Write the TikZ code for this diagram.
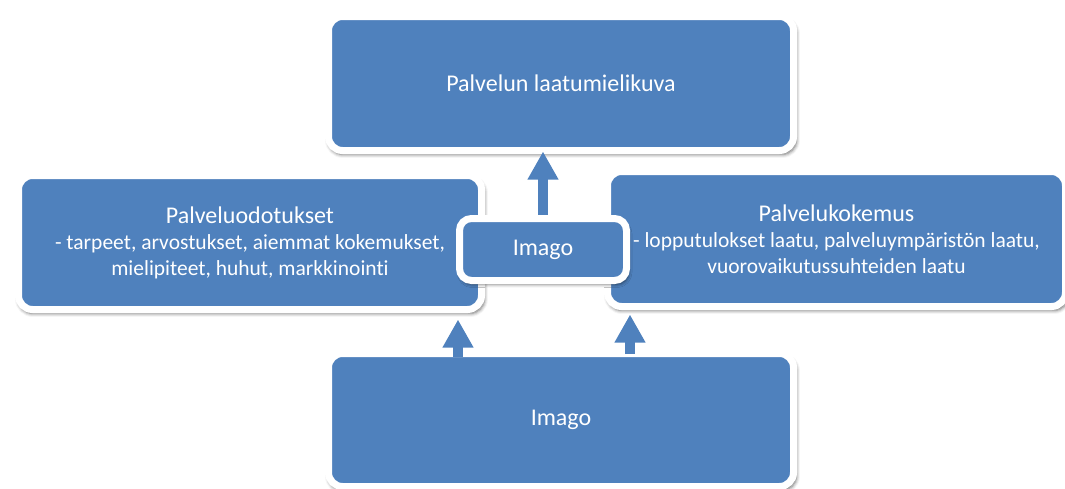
\documentclass[tikz,border=0pt]{standalone}
\usepackage{fontspec}
\setmainfont{Carlito}[Ligatures=NoCommon]
\usetikzlibrary{arrows.meta,shadows.blur}
\definecolor{boxblue}{HTML}{4F81BD}
\tikzset{
  panel/.style={draw=white, line width=7pt, fill=boxblue, rounded corners=14pt,
    text=white, align=center, inner sep=0pt,
    blur shadow={shadow xshift=1.5pt, shadow yshift=-3.5pt,
                 shadow blur radius=3.5pt, shadow blur extra rounding=3pt,
                 shadow scale=1.006, shadow opacity=60}},
  headfont/.style={font=\fontsize{24}{26}\selectfont},
  arr/.style={draw=boxblue, line width=9.5pt,
    -{Triangle[width=29pt,length=28pt]}},
}
\newcommand{\sub}[1]{{\fontsize{21.5}{26}\selectfont #1}}
\begin{document}
\begin{tikzpicture}[x=1pt,y=-1pt]
\useasboundingbox (0,0) rectangle (1065,488);

% outer panels
\node[panel, headfont, minimum width=465pt, minimum height=134pt]
  (top) at (561,83.5) {Palvelun laatumielikuva};
\node[panel, headfont, minimum width=463pt, minimum height=134pt]
  (left) at (250,242.5)
  {Palveluodotukset\\\sub{- tarpeet, arvostukset, aiemmat kokemukset,}\\\sub{mielipiteet, huhut, markkinointi}};
\node[panel, headfont, minimum width=458pt, minimum height=135pt]
  (right) at (836.5,239)
  {Palvelukokemus\\\sub{- lopputulokset laatu, palveluympäristön laatu,}\\\sub{vuorovaikutussuhteiden laatu}};
\node[panel, headfont, minimum width=465pt, minimum height=133pt]
  (bottom) at (561,420) {Imago};

% central image box and the arrow to the top panel
\draw[arr, shorten >=-2.5pt] (543,218.5) coordinate (cstart) -- (cstart |- top.south);
\node[panel, headfont, rounded corners=12pt, minimum width=167pt, minimum height=62pt]
  (mid) at (543,249.5) {Imago};

% arrows from the bottom panel
\draw[arr, shorten <=-6.5pt, shorten >=6.5pt]
  ([xshift=-103pt]bottom.north) -- ([xshift=-103pt]bottom.north |- left.south);
\draw[arr, shorten <=-4pt, shorten >=4.5pt]
  ([xshift=69pt]bottom.north) -- ([xshift=69pt]bottom.north |- right.south);
\end{tikzpicture}
\end{document}
